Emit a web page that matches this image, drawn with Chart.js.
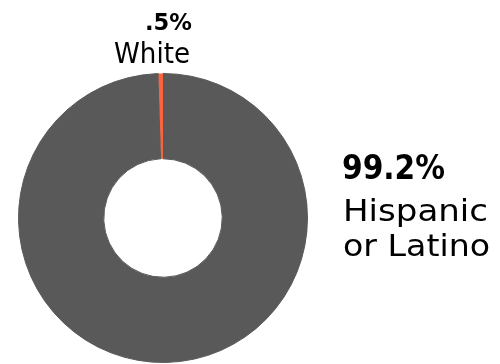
<!DOCTYPE html>
<html>
<head>
<meta charset="utf-8">
<script src="https://cdn.jsdelivr.net/npm/chart.js@4"></script>
<style>
  html, body { margin:0; padding:0; background:#fff; }
  #wrap { position:relative; width:500px; height:364px; }
</style>
</head>
<body>
<div id="wrap"><canvas id="donut" width="500" height="364"></canvas></div>
<script>
// data (clockwise from 12 o'clock)
const categories = ['Hispanic or Latino', 'Other', 'White'];
const values = [99.2, 0.3, 0.5];
const sliceColors = ['#595959', '#595959', '#F9643F'];

// which slices get a callout, and how the name is broken into lines
const calloutNames = { 0: ['Hispanic', 'or Latino'], 2: ['White'] };

const fmtPct = v => String(v).replace(/^0(?=\.)/, '') + '%';

// callout placement
const calloutLayout = {
  0: { align:'left', x:342, pctY:179, pctW:103, pctSize:34, nameX:343, nameY:[221, 256], nameW:[145, 147], nameSize:30 },
  2: { align:'right', x:192, pctY:30, pctW:47, pctSize:23, nameX:190, nameY:[63], nameW:[76], nameSize:29 }
};

// draws text squeezed/stretched to a given width
function fitText(ctx, txt, x, y, w, align){
  const m = ctx.measureText(txt).width;
  ctx.save();
  ctx.translate(x, y);
  ctx.scale(w / m, 1);
  ctx.textAlign = align;
  ctx.fillText(txt, 0, 0);
  ctx.restore();
}

const calloutPlugin = {
  id: 'callouts',
  afterDraw(chart){
    const ctx = chart.ctx;
    ctx.save();
    ctx.fillStyle = '#000';
    ctx.textBaseline = 'alphabetic';
    Object.keys(calloutNames).forEach(k => {
      const i = Number(k);
      const L = calloutLayout[i];
      ctx.font = `bold ${L.pctSize}px "DejaVu Sans"`;
      fitText(ctx, fmtPct(values[i]), L.x, L.pctY, L.pctW, L.align);
      ctx.font = `${L.nameSize}px "DejaVu Sans"`;
      calloutNames[i].forEach((line, j) => {
        fitText(ctx, line, L.nameX, L.nameY[j], L.nameW[j], L.align);
      });
    });
    ctx.restore();
  }
};

new Chart(document.getElementById('donut'), {
  type: 'doughnut',
  data: {
    labels: categories,
    datasets: [{
      data: values,
      backgroundColor: sliceColors,
      borderColor: sliceColors,
      borderWidth: [1, 1, 0]
    }]
  },
  options: {
    responsive: false,
    animation: false,
    cutout: '41%',
    rotation: 0,
    layout: { padding: { left: 18, right: 192, top: 73, bottom: 1 } },
    plugins: {
      legend: { display: false },
      tooltip: { enabled: false }
    }
  },
  plugins: [calloutPlugin]
});
</script>
</body>
</html>
